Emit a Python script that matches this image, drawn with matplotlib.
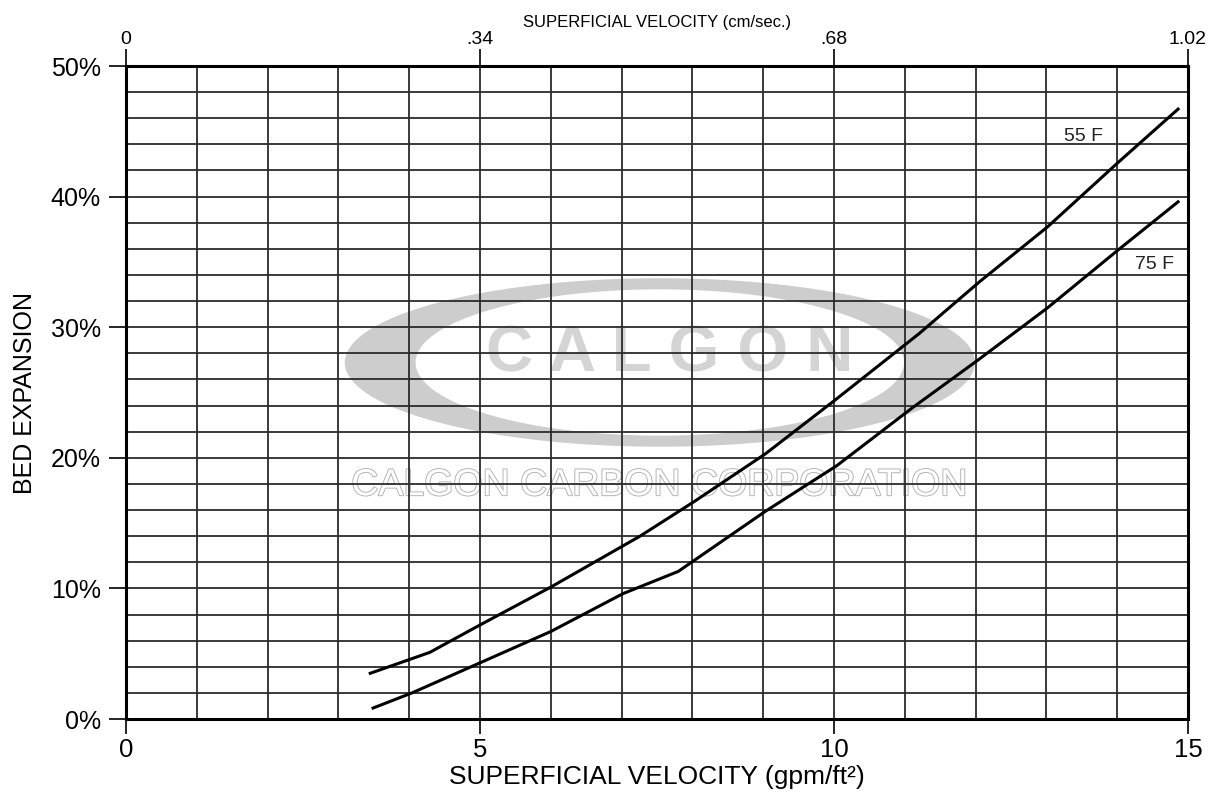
import numpy as np
import matplotlib
matplotlib.use("Agg")
from matplotlib import pyplot as plt
from matplotlib.path import Path
from matplotlib.patches import PathPatch
from matplotlib import patheffects as pe

plt.rcParams['font.family'] = ['Liberation Sans', 'DejaVu Sans']

# bed expansion curves (gpm/ft2 -> %)
vel_55 = [3.45, 4.29, 5.0, 6.0, 7.26, 8.04, 9.03, 10.01, 11.2, 12.06, 13.02, 14.01, 14.86]
exp_55 = [3.5, 5.1, 7.2, 10.1, 14.0, 16.7, 20.3, 24.4, 29.5, 33.5, 37.7, 42.6, 46.7]
vel_75 = [3.49, 4.04, 5.0, 6.0, 7.02, 7.8, 9.03, 10.04, 11.1, 12.05, 13.02, 14.01, 14.86]
exp_75 = [0.84, 2.0, 4.3, 6.7, 9.6, 11.3, 15.9, 19.4, 23.8, 27.55, 31.5, 35.9, 39.6]

x_ticks = [0, 5, 10, 15]
y_ticks = [0, 10, 20, 30, 40, 50]
y_labels = ['0%', '10%', '20%', '30%', '40%', '50%']
cm_ticks = [0, 0.34, 0.68, 1.02]
cm_labels = ['0', '.34', '.68', '1.02']
GPM_TO_CM = 0.068

fig = plt.figure(figsize=(12.21, 8.05), dpi=100)
ax = fig.add_axes([126 / 1221, 86 / 805, 1062 / 1221, 653 / 805])
ax.set_xlim(0, 15)
ax.set_ylim(0, 50)

# watermark (ring + text), kept under the grid
cx, cy = 7.54, 27.3
theta = np.linspace(0, 2 * np.pi, 240)
outer = np.c_[cx + 4.45 * np.cos(theta), cy + 6.45 * np.sin(theta)]
inner = np.c_[cx + 3.45 * np.cos(theta[::-1]), cy + 5.6 * np.sin(theta[::-1])]
n = len(theta)
codes = [Path.MOVETO] + [Path.LINETO] * (n - 1)
ring = Path(np.concatenate([outer, inner]), codes + codes)
ax.add_patch(PathPatch(ring, facecolor='#cdcdcd', edgecolor='none', zorder=0.5))
ax.text(7.68, 27.9, 'C A L G O N', fontsize=47, fontweight='bold', color='#d4d4d4',
        ha='center', va='center', zorder=0.6)
ax.text(7.53, 17.9, 'CALGON CARBON CORPORATION', fontsize=27, color='white',
        ha='center', va='center', zorder=0.6,
        path_effects=[pe.withStroke(linewidth=1.3, foreground='#b0b0b0')])

# grid
ax.set_xticks(range(16), minor=True)
ax.set_yticks(range(0, 51, 2), minor=True)
ax.grid(which='both', color='#2b2b2b', linewidth=1.3)
ax.tick_params(which='minor', length=0)

ax.plot(vel_55, exp_55, color='black', linewidth=2.2, zorder=3)
ax.plot(vel_75, exp_75, color='black', linewidth=2.2, zorder=3)
ax.text(13.52, 44.6, '55 F', fontsize=14, color='#222222', ha='center', va='center')
ax.text(14.53, 34.8, '75 F', fontsize=14, color='#222222', ha='center', va='center')

ax.set_xticks(x_ticks)
ax.set_xticklabels([str(t) for t in x_ticks])
ax.set_yticks(y_ticks)
ax.set_yticklabels(y_labels)
ax.tick_params(axis='x', which='major', length=11, width=1.2, labelsize=18.5, pad=3)
ax.tick_params(axis='y', which='major', length=12, width=1.2, labelsize=18, pad=6)
for s in ax.spines.values():
    s.set_linewidth(2.2)

ax.set_xlabel('SUPERFICIAL VELOCITY (gpm/ft²)', fontsize=19, labelpad=2)
ax.set_ylabel('BED EXPANSION', fontsize=18, labelpad=10)

sec = ax.secondary_xaxis('top', functions=(lambda v: v * GPM_TO_CM,
                                           lambda v: v / GPM_TO_CM))
sec.set_xticks(cm_ticks)
sec.set_xticklabels(cm_labels)
sec.tick_params(length=12, width=1.2, labelsize=14, pad=1)
sec.set_xlabel('SUPERFICIAL VELOCITY (cm/sec.)', fontsize=12, labelpad=3)

fig.savefig('out.png', dpi=100, facecolor='white')
